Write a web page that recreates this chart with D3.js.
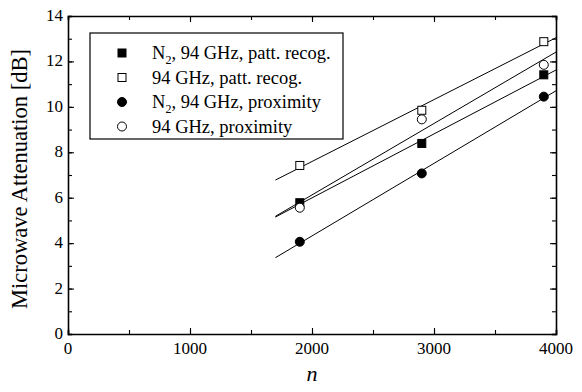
<!DOCTYPE html>
<html>
<head>
<meta charset="utf-8">
<script src="https://cdn.jsdelivr.net/npm/d3@7"></script>
<style>
  html, body { margin: 0; padding: 0; background: #fff; }
  svg text { font-family: "Liberation Serif", "Times New Roman", serif; fill: #000; }
</style>
</head>
<body>
<div id="chart"></div>
<script>
// n values where attenuation was measured
const nValues = [1900, 2900, 3900];

// attenuation [dB] per series
const n2PattRecog = [5.78, 8.39, 11.41];
const pattRecog = [7.42, 9.85, 12.87];
const n2Proximity = [4.06, 7.07, 10.45];
const proximity = [5.56, 9.45, 11.85];

const seriesNames = [
  "N₂, 94 GHz, patt. recog.",
  "94 GHz, patt. recog.",
  "N₂, 94 GHz, proximity",
  "94 GHz, proximity"
];
const seriesShapes = ["square", "square", "circle", "circle"];
const seriesFilled = [true, false, true, false];
const seriesValues = [n2PattRecog, pattRecog, n2Proximity, proximity];

// fit lines are drawn over this n range
const fitRange = [1700, 4000];

const xTicks = [0, 1000, 2000, 3000, 4000];
const yTicks = [0, 2, 4, 6, 8, 10, 12, 14];

const width = 582, height = 392;
const margin = { top: 16, right: 26, bottom: 58, left: 68 };
const plotW = width - margin.left - margin.right;
const plotH = height - margin.top - margin.bottom;

const svg = d3.select("#chart").append("svg")
  .attr("width", width)
  .attr("height", height);

const g = svg.append("g")
  .attr("transform", `translate(${margin.left},${margin.top})`);

const x = d3.scaleLinear().domain([0, 4000]).range([0, plotW]);
const y = d3.scaleLinear().domain([0, 14]).range([plotH, 0]);

// linear least-squares fit of a series
function fit(ys) {
  const mx = d3.mean(nValues), my = d3.mean(ys);
  let sxy = 0, sxx = 0;
  nValues.forEach((n, i) => { sxy += (n - mx) * (ys[i] - my); sxx += (n - mx) ** 2; });
  const b = sxy / sxx;
  return n => my + b * (n - mx);
}

// axes with inward ticks, minor ticks between
function tickAxis(axisFn, scale, ticks, minor, size, minorSize) {
  return sel => {
    sel.call(axisFn(scale).tickValues(minor).tickSize(minorSize).tickFormat(""));
    const major = sel.append("g").call(axisFn(scale).tickValues(ticks).tickSize(size).tickFormat(""));
    major.select(".domain").remove();
  };
}

const xMinor = d3.range(0, 4001, 500);
const yMinor = d3.range(0, 15, 1);

const axes = [
  { fn: d3.axisTop, scale: x, ticks: xTicks, minor: xMinor, pos: `translate(0,${plotH})` },
  { fn: d3.axisBottom, scale: x, ticks: xTicks, minor: xMinor, pos: `translate(0,0)` },
  { fn: d3.axisRight, scale: y, ticks: yTicks, minor: yMinor, pos: `translate(0,0)` },
  { fn: d3.axisLeft, scale: y, ticks: yTicks, minor: yMinor, pos: `translate(${plotW},0)` }
];
axes.forEach(a => {
  g.append("g").attr("transform", a.pos)
    .call(tickAxis(a.fn, a.scale, a.ticks, a.minor, 6, 4));
});
g.selectAll(".domain").attr("stroke", "#000").attr("stroke-width", 1.6);
g.selectAll(".tick line").attr("stroke", "#000").attr("stroke-width", 1.1);

// tick labels
g.append("g").selectAll("text").data(xTicks).enter().append("text")
  .attr("x", d => x(d)).attr("y", plotH + 20)
  .attr("text-anchor", "middle").style("font-size", "17px")
  .text(d => d);
g.append("g").selectAll("text").data(yTicks).enter().append("text")
  .attr("x", -5).attr("y", d => y(d) + 5)
  .attr("text-anchor", "end").style("font-size", "17px")
  .text(d => d);

// axis titles
svg.append("text")
  .attr("transform", `translate(27,${margin.top + plotH / 2 + 4}) rotate(-90)`)
  .attr("text-anchor", "middle").style("font-size", "22.5px")
  .text("Microwave Attenuation [dB]");
svg.append("text")
  .attr("x", margin.left + plotW / 2).attr("y", 381)
  .attr("text-anchor", "middle").style("font-size", "22px").style("font-style", "italic")
  .text("n");

// fit lines
const line = d3.line().x(d => x(d[0])).y(d => y(d[1]));
seriesValues.forEach(vals => {
  const f = fit(vals);
  g.append("path")
    .datum(fitRange.map(n => [n, f(n)]))
    .attr("d", line)
    .attr("fill", "none").attr("stroke", "#000").attr("stroke-width", 1);
});

// markers
function drawMarker(sel, shape, filled, cx, cy) {
  if (shape === "square") {
    sel.append("rect").attr("x", cx - 4).attr("y", cy - 4).attr("width", 8).attr("height", 8)
      .attr("fill", filled ? "#000" : "#fff").attr("stroke", "#000").attr("stroke-width", 1);
  } else {
    sel.append("circle").attr("cx", cx).attr("cy", cy).attr("r", 4.5)
      .attr("fill", filled ? "#000" : "#fff").attr("stroke", "#000").attr("stroke-width", 1);
  }
}
seriesValues.forEach((vals, s) => {
  const mg = g.append("g");
  vals.forEach((v, i) => drawMarker(mg, seriesShapes[s], seriesFilled[s], x(nValues[i]), y(v)));
});

// legend
const legend = svg.append("g").attr("transform", "translate(90,33)");
legend.append("rect").attr("width", 253).attr("height", 106)
  .attr("fill", "#fff").attr("stroke", "#000").attr("stroke-width", 1.2);
seriesNames.forEach((name, i) => {
  const ry = 20 + i * 24.5;
  drawMarker(legend, seriesShapes[i], seriesFilled[i], 32, ry);
  const t = legend.append("text").attr("x", 62).attr("y", ry + 6).style("font-size", "18.5px");
  if (name.startsWith("N₂")) {
    t.append("tspan").text("N");
    t.append("tspan").attr("dy", 5).style("font-size", "12px").text("2");
    t.append("tspan").attr("dy", -5).text(name.slice(2));
  } else {
    t.text(name);
  }
});
</script>
</body>
</html>
